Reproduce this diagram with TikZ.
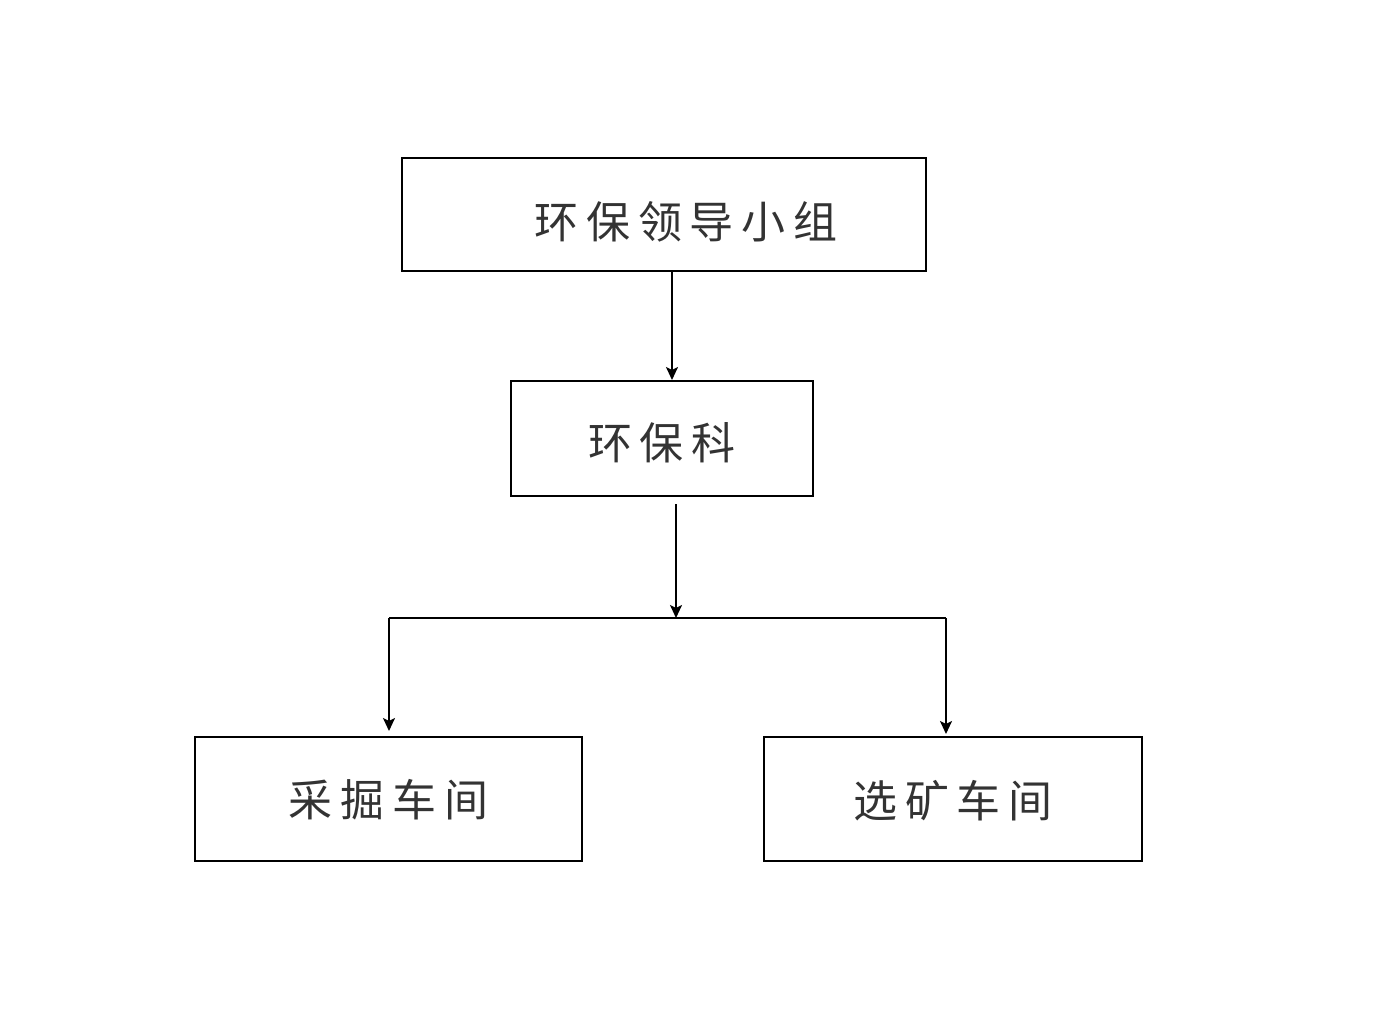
\documentclass[tikz,border=0pt]{standalone}
\usepackage{fontspec}
\newfontfamily\cjk[LetterSpace=18]{Noto Sans CJK SC}
\usetikzlibrary{arrows.meta}
\newcommand{\setup}{
    \coordinate (split) at (676,618);
    \coordinate (lsplit) at (389,618);
    \coordinate (rsplit) at (946,618);
}
\newcommand{\low}[2]{\raisebox{-#1pt}[\height][\depth]{#2}}
\begin{document}
\begin{tikzpicture}[x=1pt,y=-1pt]
    \tikzstyle{every node}=[font=\cjk\fontsize{44}{52}\selectfont, text=black!80]
    \tikzstyle{unit}=[draw, line width=2pt, inner sep=0pt]
    \tikzstyle{arr}=[line width=2pt, -{Stealth[length=13pt,width=12pt,inset=3pt]}]
    \useasboundingbox (0,0) rectangle (1383,1015);
    \setup;

    \node[unit, minimum width=524pt, minimum height=113pt] (lead) at (664,214.5) {\low{7}{\hspace{44pt}环保领导小组}};
    \node[unit, minimum width=302pt, minimum height=115pt] (office) at (662,438.5) {\low{4}{环保科}};
    \node[unit, minimum width=387pt, minimum height=124pt] (mining) at (388.5,799) {\low{1}{采掘车间}};
    \node[unit, minimum width=378pt, minimum height=124pt] (dressing) at (953,799) {\low{2}{选矿车间}};

    \draw[arr] ([xshift=8pt]lead.south) -- ([xshift=8pt]lead.south |- office.north);
    \draw[arr] ([yshift=-7pt]office.south -| split) -- (split);
    \draw[line width=2pt] (lsplit) -- (rsplit); % branch line
    \draw[arr] (lsplit) -- ([yshift=5pt]lsplit |- mining.north);
    \draw[arr] (rsplit) -- ([yshift=2pt]rsplit |- dressing.north);
\end{tikzpicture}
\end{document}
